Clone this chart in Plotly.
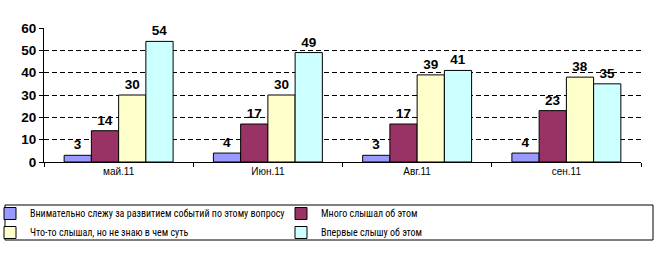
import plotly.graph_objects as go

categories = ["май.11", "Июн.11", "Авг.11", "сен.11"]
series_names = [
    "Внимательно слежу за развитием событий по этому вопросу",
    "Много слышал об этом",
    "Что-то слышал, но не знаю в чем суть",
    "Впервые слышу об этом",
]
s1 = [3, 4, 3, 4]
s2 = [14, 17, 17, 23]
s3 = [30, 30, 39, 38]
s4 = [54, 49, 41, 35]
colors = ["#9999FF", "#993366", "#FFFFCC", "#CCFFFF"]
y_ticks = [0, 10, 20, 30, 40, 50, 60]
grid_lines = [10, 20, 30, 40, 50]

W, H = 659, 253
L, R, T, B = 44, 18, 28, 91
pw = W - L - R
ph = H - T - B

fig = go.Figure()
for name, vals, col in zip(series_names, [s1, s2, s3, s4], colors):
    fig.add_trace(go.Bar(
        x=categories, y=vals, name=name,
        marker=dict(color=col, line=dict(color="black", width=1)),
        text=[str(v) for v in vals], textposition="outside",
        textfont=dict(family="Liberation Sans", size=13.5, color="black", weight="bold"),
        cliponaxis=False,
    ))

def px2paper_x(px):
    return (px - L) / pw

def px2paper_y(py):
    return (H - B - py) / ph

fig.add_shape(type="rect", xref="paper", yref="paper",
              x0=px2paper_x(5), x1=px2paper_x(653),
              y0=px2paper_y(240), y1=px2paper_y(205),
              line=dict(color="black", width=1), fillcolor="rgba(0,0,0,0)")

fig.update_layout(
    width=W, height=H,
    margin=dict(l=L, r=R, t=T, b=B, pad=0, autoexpand=False),
    paper_bgcolor="white", plot_bgcolor="white",
    barmode="group", bargap=0.27, bargroupgap=0,
    showlegend=True,
    legend=dict(
        orientation="h", x=px2paper_x(-10), y=px2paper_y(199),
        xanchor="left", yanchor="top",
        entrywidth=246, entrywidthmode="pixels",
        font=dict(family="Roboto Condensed", size=10, color="black"),
        bgcolor="rgba(0,0,0,0)", borderwidth=0,
        itemwidth=30, tracegroupgap=0,
    ),
    xaxis=dict(
        showline=True, linecolor="black", linewidth=1,
        ticks="outside", tickson="boundaries", ticklen=4, tickcolor="black",
        tickfont=dict(family="Liberation Sans", size=10, color="black"),
        showgrid=False,
    ),
    yaxis=dict(
        range=[0, 60], tickvals=y_ticks,
        showline=True, linecolor="black", linewidth=1,
        ticks="outside", ticklen=4, tickcolor="black",
        tickfont=dict(family="Liberation Sans", size=13.5, color="black", weight="bold"),
        showgrid=False, zeroline=False,
        minor=dict(tickvals=grid_lines, showgrid=True, gridcolor="black", gridwidth=1,
                   griddash="5px,3px", ticks=""),
    ),
)

fig.write_html("out.html")
